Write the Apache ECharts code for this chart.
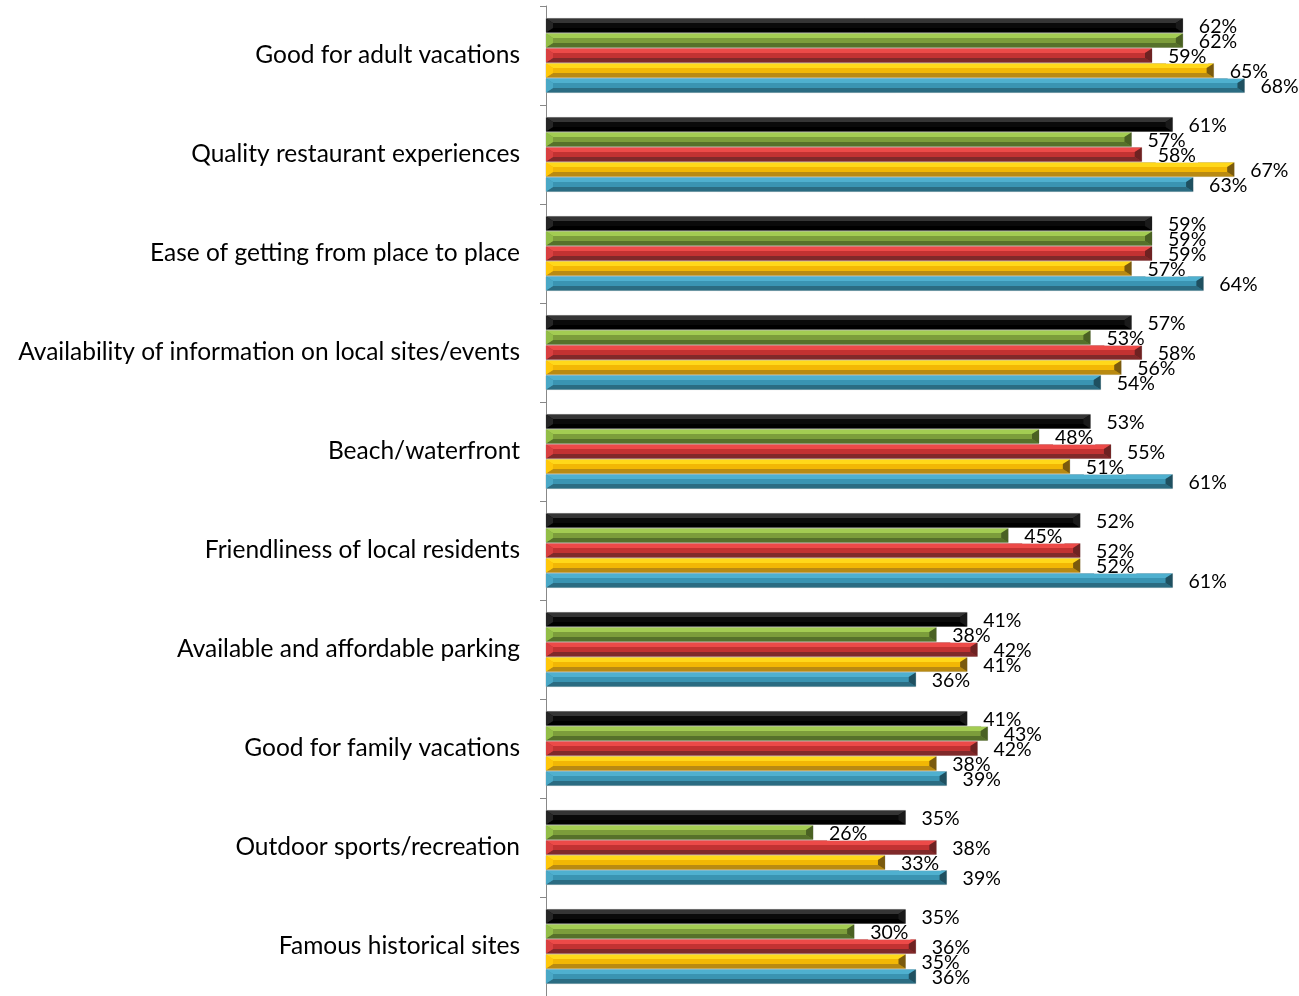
<!DOCTYPE html>
<html>
<head>
<meta charset="utf-8">
<script src="https://cdn.jsdelivr.net/npm/echarts@6/dist/echarts.min.js"></script>
<style>
  html, body { margin: 0; padding: 0; background: #fff; }
  #chart { width: 1299px; height: 996px; }
</style>
</head>
<body>
<div id="chart"></div>
<script>
// Attribute ratings (% of respondents), one array per group
const categories = [
  'Good for adult vacations',
  'Quality restaurant experiences',
  'Ease of getting from place to place',
  'Availability of information on local sites/events',
  'Beach/waterfront',
  'Friendliness of local residents',
  'Available and affordable parking',
  'Good for family vacations',
  'Outdoor sports/recreation',
  'Famous historical sites'
];
const seriesNames = ['Group 1', 'Group 2', 'Group 3', 'Group 4', 'Group 5'];
const group1 = [62, 61, 59, 57, 53, 52, 41, 41, 35, 35];
const group2 = [62, 57, 59, 53, 48, 45, 38, 43, 26, 30];
const group3 = [59, 58, 59, 58, 55, 52, 42, 42, 38, 36];
const group4 = [65, 67, 57, 56, 51, 52, 41, 38, 33, 35];
const group5 = [68, 63, 64, 54, 61, 61, 36, 39, 39, 36];
const groups = [group1, group2, group3, group4, group5];

// Bevel shades per group: top, face, bottom, left end, right end
const palettes = [
  { top: '#353535', face: '#0a0a0a', bottom: '#000000', left: '#262626', right: '#1a1a1a' },
  { top: '#a3cc52', face: '#7c9d3b', bottom: '#56712a', left: '#92bd47', right: '#4a6123' },
  { top: '#ec4a48', face: '#c23232', bottom: '#80292a', left: '#d94040', right: '#6e2222' },
  { top: '#ffd81a', face: '#f2b705', bottom: '#b98a12', left: '#ffc70a', right: '#7a5a0e' },
  { top: '#4fb0cf', face: '#3a94b2', bottom: '#2b6c82', left: '#4aa8c6', right: '#1f5060' }
];

const FONT = 'Lato, "Open Sans", sans-serif';

function barGeometry(api, idx) {
  const val = api.value(0);
  const cat = api.value(1);
  const start = api.coord([0, cat]);
  const end = api.coord([val, cat]);
  const band = api.size([0, 1])[1];
  const h = band * 0.152;
  const yTop = start[1] - (h * groups.length) / 2 + idx * h;
  return { x0: start[0], x1: end[0], y: yTop, h: h, val: val };
}

function bevelBar(idx) {
  const p = palettes[idx];
  return function (params, api) {
    const g = barGeometry(api, idx);
    const x0 = g.x0, x1 = g.x1, y0 = g.y + 0.5, y1 = g.y + g.h - 0.5;
    const b = Math.min(4.5, (y1 - y0) / 2 - 0.5);
    const e = 7;
    return {
      type: 'group',
      children: [
        { type: 'rect', shape: { x: x0, y: y0, width: x1 - x0, height: y1 - y0 },
          style: { fill: p.face, stroke: 'rgba(190,190,190,0.7)', lineWidth: 1 } },
        { type: 'polygon', shape: { points: [[x0, y0], [x1, y0], [x1 - e, y0 + b], [x0 + e, y0 + b]] },
          style: { fill: p.top } },
        { type: 'polygon', shape: { points: [[x0, y1], [x1, y1], [x1 - e, y1 - b], [x0 + e, y1 - b]] },
          style: { fill: p.bottom } },
        { type: 'polygon', shape: { points: [[x0, y0], [x0 + e, y0 + b], [x0 + e, y1 - b], [x0, y1]] },
          style: { fill: p.left } },
        { type: 'polygon', shape: { points: [[x1, y0], [x1 - e, y0 + b], [x1 - e, y1 - b], [x1, y1]] },
          style: { fill: p.right } }
      ]
    };
  };
}

function valueLabel(idx) {
  return function (params, api) {
    const g = barGeometry(api, idx);
    return {
      type: 'text',
      x: g.x1 + 14,
      y: g.y + g.h / 2 + 1.5,
      style: {
        text: g.val + '%',
        font: '19.5px ' + FONT,
        fill: '#000',
        align: 'left',
        verticalAlign: 'middle',
        lineHeight: 13,
        backgroundColor: '#fff',
        padding: [0, 2, 0, 2]
      }
    };
  };
}

const series = [];
groups.forEach(function (vals, i) {
  series.push({
    name: seriesNames[i],
    type: 'custom',
    z: 2,
    renderItem: bevelBar(i),
    encode: { x: 0, y: 1 },
    data: vals.map(function (v, c) { return [v, c]; })
  });
});
groups.forEach(function (vals, i) {
  series.push({
    name: seriesNames[i],
    type: 'custom',
    z: 5,
    silent: true,
    renderItem: valueLabel(i),
    encode: { x: 0, y: 1 },
    data: vals.map(function (v, c) { return [v, c]; })
  });
});

const chart = echarts.init(document.getElementById('chart'), null, { renderer: 'canvas' });
chart.setOption({
  animation: false,
  backgroundColor: '#fff',
  grid: { left: 546, top: 6, width: 719, height: 993 },
  xAxis: {
    type: 'value', min: 0, max: 70, show: false
  },
  yAxis: {
    type: 'category',
    data: categories,
    inverse: true,
    axisLine: { show: true, lineStyle: { color: '#888', width: 1 } },
    axisTick: { show: true, length: 6, lineStyle: { color: '#888' } },
    axisLabel: { color: '#000', fontSize: 24.5, fontFamily: FONT, margin: 26, padding: [4, 0, 0, 0] },
    splitLine: { show: false }
  },
  series: series
});
</script>
</body>
</html>
